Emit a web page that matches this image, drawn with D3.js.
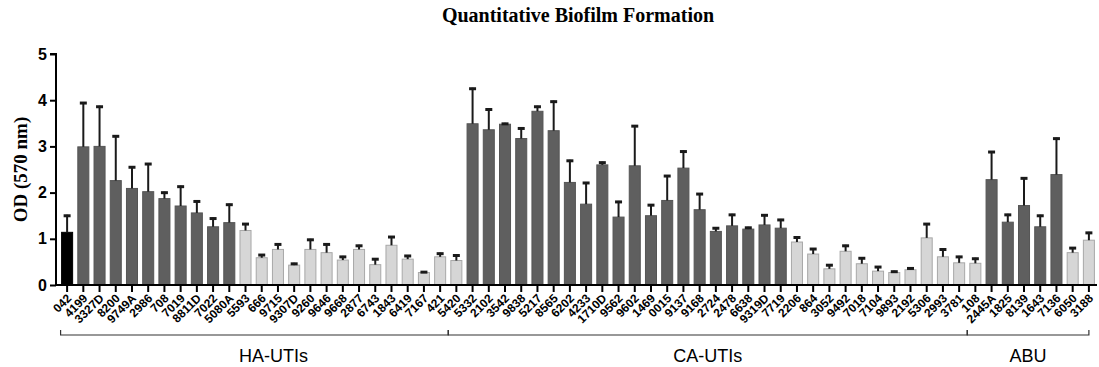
<!DOCTYPE html>
<html>
<head>
<meta charset="utf-8">
<script src="https://cdn.jsdelivr.net/npm/d3@7"></script>
<style>
  body { margin: 0; background: #fff; }
  svg { display: block; }
  .title { font-family: "Liberation Serif", "Times New Roman", serif; font-weight: bold; font-size: 20px; }
  .yTitle { font-family: "Liberation Serif", "Times New Roman", serif; font-weight: bold; font-size: 19px; }
  .axis text { font-family: "Liberation Sans", Arial, sans-serif; font-weight: bold; }
  .group { font-family: "Liberation Sans", Arial, sans-serif; font-size: 18px; }
</style>
</head>
<body>
<svg id="chart" width="1099" height="367"></svg>
<script>
// strain labels, left to right
const strains = [
  '042', '4199', '3327D', '8200', '9749A', '2986', '708', '7019', '8811D', '7022', '5080A',
  '5593', '666', '9715', '9307D', '9260', '9646', '9668', '2877', '6743', '1843', '6419', '7167', '421',
  '5420', '5332', '2102', '3542', '9838', '5217', '8565', '6202', '4233', '1710D', '9562', '9602',
  '1469', '0015', '9137', '9168', '2724', '2478', '6638', '9319D', '7719',
  '2206', '864', '3052', '9492', '7018', '7104', '9893', '2192', '5306', '2993', '3781',
  '108', '2445A', '1825', '8139', '1643', '7136', '6050', '3188'
];

// mean OD (570 nm)
const meanOD = [
  1.14, 2.99, 3.00, 2.26, 2.09, 2.02, 1.87, 1.71, 1.56, 1.26, 1.35,
  1.18, 0.59, 0.77, 0.43, 0.77, 0.70, 0.54, 0.77, 0.44, 0.86, 0.56, 0.27, 0.61,
  0.53, 3.49, 3.36, 3.48, 3.17, 3.76, 3.34, 2.22, 1.75, 2.60, 1.47, 2.58,
  1.50, 1.83, 2.53, 1.63, 1.16, 1.28, 1.21, 1.30, 1.23,
  0.93, 0.67, 0.35, 0.73, 0.46, 0.30, 0.27, 0.33, 1.02, 0.61, 0.48,
  0.47, 2.28, 1.36, 1.72, 1.26, 2.39, 0.70, 0.97
];

// mean + SD (top of error bar)
const upperOD = [
  1.52, 3.96, 3.88, 3.24, 2.57, 2.64, 2.02, 2.15, 1.83, 1.46, 1.76,
  1.34, 0.67, 0.90, 0.48, 1.00, 0.90, 0.63, 0.87, 0.58, 1.06, 0.65, 0.30, 0.70,
  0.66, 4.27, 3.82, 3.51, 3.41, 3.88, 3.99, 2.71, 2.23, 2.67, 1.82, 3.46,
  1.75, 2.38, 2.91, 1.99, 1.25, 1.54, 1.26, 1.53, 1.43,
  1.05, 0.80, 0.45, 0.87, 0.60, 0.41, 0.31, 0.38, 1.34, 0.79, 0.63,
  0.59, 2.90, 1.54, 2.33, 1.52, 3.19, 0.82, 1.15
];

// c = control, s = strong producer, w = weak producer
const shade = [
  'c', 's', 's', 's', 's', 's', 's', 's', 's', 's', 's',
  'w', 'w', 'w', 'w', 'w', 'w', 'w', 'w', 'w', 'w', 'w', 'w', 'w',
  'w', 's', 's', 's', 's', 's', 's', 's', 's', 's', 's', 's',
  's', 's', 's', 's', 's', 's', 's', 's', 's',
  'w', 'w', 'w', 'w', 'w', 'w', 'w', 'w', 'w', 'w', 'w',
  'w', 's', 's', 's', 's', 's', 'w', 'w'
];

// group brackets: first and last strain of each
const groupNames = ['HA-UTIs', 'CA-UTIs', 'ABU'];
const groupStart = ['042', '5420', '108'];
const groupEnd = ['421', '3781', '3188'];

const yTicks = [0, 1, 2, 3, 4, 5];

const fillColor = { c: '#000000', s: '#5f5f5f', w: '#d6d6d6' };
const strokeColor = { c: '#000000', s: '#555555', w: '#a8a8a8' };

const data = strains.map((s, i) => ({ strain: s, mean: meanOD[i], upper: upperOD[i], shade: shade[i] }));

const margin = { left: 56, top: 54, right: 2 };
const plotBottom = 285;

const svg = d3.select('#chart');

const x = d3.scaleBand()
  .domain(strains)
  .range([59, 1097])
  .paddingInner(0.32)
  .paddingOuter(0.16);

const y = d3.scaleLinear()
  .domain([0, 5])
  .range([plotBottom, margin.top]);

// title
svg.append('text')
  .attr('class', 'title')
  .attr('x', 578)
  .attr('y', 22)
  .attr('text-anchor', 'middle')
  .text('Quantitative Biofilm Formation');

// y title
svg.append('text')
  .attr('class', 'yTitle')
  .attr('transform', `translate(27, ${(plotBottom + margin.top) / 2}) rotate(-90)`)
  .attr('text-anchor', 'middle')
  .text('OD (570 nm)');

// bars
svg.append('g')
  .selectAll('rect')
  .data(data)
  .join('rect')
  .attr('x', d => x(d.strain))
  .attr('width', x.bandwidth())
  .attr('y', d => y(d.mean))
  .attr('height', d => y(0) - y(d.mean))
  .attr('fill', d => fillColor[d.shade])
  .attr('stroke', d => strokeColor[d.shade])
  .attr('stroke-width', 1);

// error bars (upper only)
const errs = svg.append('g')
  .selectAll('g')
  .data(data)
  .join('g')
  .attr('transform', d => `translate(${x(d.strain) + x.bandwidth() / 2}, 0)`);

errs.append('line')
  .attr('y1', d => y(d.mean))
  .attr('y2', d => y(d.upper))
  .attr('stroke', '#1a1a1a')
  .attr('stroke-width', 2);

errs.append('line')
  .attr('x1', -3.5)
  .attr('x2', 3.5)
  .attr('y1', d => y(d.upper) + 1)
  .attr('y2', d => y(d.upper) + 1)
  .attr('stroke', '#1a1a1a')
  .attr('stroke-width', 3);

// y axis
const yAxis = svg.append('g')
  .attr('class', 'axis')
  .attr('transform', `translate(${margin.left}, 0)`)
  .call(d3.axisLeft(y).tickValues(yTicks).tickFormat(d3.format('d')).tickSize(6).tickPadding(3));
yAxis.select('.domain').attr('stroke-width', 2).attr('d', `M-6,${y(5)}H0V${y(0)}`);
yAxis.selectAll('.tick line').attr('stroke-width', 2);
yAxis.selectAll('.tick text').style('font-size', '16px');

// x axis
const xAxis = svg.append('g')
  .attr('class', 'axis')
  .attr('transform', `translate(0, ${plotBottom})`)
  .call(d3.axisBottom(x).tickSize(7).tickSizeOuter(0));
xAxis.select('.domain').attr('stroke-width', 2).attr('d', `M${margin.left},0H1097`);
xAxis.selectAll('.tick line').attr('stroke-width', 2);
xAxis.selectAll('.tick text')
  .style('font-size', '12px')
  .attr('text-anchor', 'end')
  .attr('dy', null)
  .attr('y', 0)
  .attr('transform', 'translate(5, 14) rotate(-45)');

// group brackets
const bracketY = 335;
const groups = svg.append('g');
groupNames.forEach((name, i) => {
  const x0 = i === 0 ? x(groupStart[i]) - 1 : x(groupStart[i]) - (x.step() - x.bandwidth()) / 2;
  const x1 = i === groupNames.length - 1
    ? x(groupEnd[i]) + x.bandwidth() / 2
    : x(groupEnd[i]) + x.bandwidth() + (x.step() - x.bandwidth()) / 2;
  groups.append('path')
    .attr('d', `M${x0},${bracketY - 5}V${bracketY}H${x1}V${bracketY - 5}`)
    .attr('fill', 'none')
    .attr('stroke', '#333')
    .attr('stroke-width', 1.2);
  groups.append('text')
    .attr('class', 'group')
    .attr('x', (x0 + x1) / 2 + (i === 0 ? 19 : 0))
    .attr('y', 362)
    .attr('text-anchor', 'middle')
    .text(name);
});
</script>
</body>
</html>
